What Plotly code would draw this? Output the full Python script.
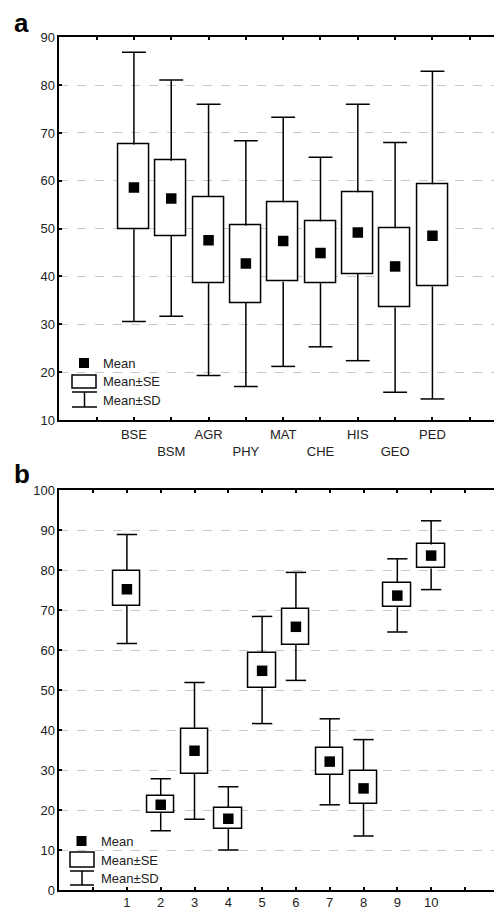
import plotly.graph_objects as go

# ---------------- data: panel a ----------------
categories_a = ["BSE", "BSM", "AGR", "PHY", "MAT", "CHE", "HIS", "GEO", "PED"]
mean_a = [58.6, 56.3, 47.6, 42.7, 47.4, 44.9, 49.2, 42.1, 48.5]
se_high_a = [67.6, 64.2, 56.6, 50.6, 55.5, 51.5, 57.6, 50.1, 59.3]
se_low_a = [49.9, 48.5, 38.6, 34.5, 38.9, 38.6, 40.5, 33.5, 37.9]
sd_high_a = [86.9, 81.1, 76.0, 68.4, 73.3, 64.9, 76.0, 68.0, 82.9]
sd_low_a = [30.6, 31.7, 19.3, 17.0, 21.2, 25.3, 22.4, 15.8, 14.4]

# ---------------- data: panel b ----------------
categories_b = ["1", "2", "3", "4", "5", "6", "7", "8", "9", "10"]
mean_b = [75.2, 21.3, 34.8, 17.8, 54.8, 65.8, 32.1, 25.4, 73.6, 83.6]
se_high_b = [79.8, 23.6, 40.3, 20.6, 59.3, 70.3, 35.6, 29.8, 76.8, 86.4]
se_low_b = [71.0, 19.2, 29.0, 15.3, 50.5, 61.3, 28.8, 21.6, 70.7, 80.4]
sd_high_b = [88.9, 27.8, 51.9, 25.8, 68.4, 79.4, 42.8, 37.6, 82.8, 92.3]
sd_low_b = [61.6, 14.8, 17.7, 10.0, 41.6, 52.4, 21.3, 13.5, 64.5, 75.1]

W, H = 494, 910
FONT = "Liberation Sans, Arial, sans-serif"


def px(x):
    return x / W


def py(y):
    return 1 - y / H


fig = go.Figure()


def add_panel(cats, mean, seh, sel, sdh, sdl, xa, ya, box_w, cap_w):
    pos = list(range(1, len(cats) + 1))
    # boxes (Mean ± SE)
    fig.add_trace(go.Bar(
        x=pos, base=sel, y=[h - l for h, l in zip(seh, sel)], width=box_w,
        marker=dict(color="white", line=dict(color="black", width=1.5)),
        xaxis=xa, yaxis=ya, showlegend=False, hoverinfo="skip"))
    # whiskers (Mean ± SD)
    wx, wy = [], []
    for p, h, l, dh, dl in zip(pos, seh, sel, sdh, sdl):
        c = cap_w / 2
        wx += [p, p, None, p, p, None, p - c, p + c, None, p - c, p + c, None]
        wy += [h, dh, None, l, dl, None, dh, dh, None, dl, dl, None]
    fig.add_trace(go.Scatter(
        x=wx, y=wy, mode="lines", line=dict(color="black", width=1.5),
        xaxis=xa, yaxis=ya, showlegend=False, hoverinfo="skip"))
    # means
    fig.add_trace(go.Scatter(
        x=pos, y=mean, mode="markers",
        marker=dict(symbol="square", size=10.5, color="black"),
        xaxis=xa, yaxis=ya, showlegend=False))


add_panel(categories_a, mean_a, se_high_a, se_low_a, sd_high_a, sd_low_a,
          "x", "y", 0.83, 0.64)
add_panel(categories_b, mean_b, se_high_b, se_low_b, sd_high_b, sd_low_b,
          "x2", "y2", 0.81, 0.60)

ticktext_a = [""] + [c if i % 2 == 0 else "<br>" + c for i, c in enumerate(categories_a)] + [""]
ticktext_b = [""] + categories_b + [""]

axis_common = dict(
    showline=True, linecolor="black", linewidth=1.5,
    ticks="inside", ticklen=3, tickcolor="black", tickwidth=1.5,
    tickfont=dict(family=FONT, size=13, color="#222"),
    zeroline=False, automargin=False, fixedrange=True,
)

x_dom = [px(59.3), 1.0]

fig.update_layout(
    width=W, height=H,
    margin=dict(l=0, r=0, t=0, b=0),
    paper_bgcolor="white", plot_bgcolor="white",
    showlegend=False, bargap=0,
    xaxis=dict(domain=x_dom, anchor="y", range=[-1, 10.65],
               tickmode="array", tickvals=list(range(0, 11)), ticktext=ticktext_a,
               mirror="ticks", showgrid=False, ticklabelstandoff=2, **axis_common),
    yaxis=dict(domain=[py(420), py(37.3)], anchor="x", range=[10, 90],
               tickmode="linear", tick0=10, dtick=10, mirror=False,
               showgrid=True, gridcolor="#c8c8c8", gridwidth=1, griddash="dash",
               **axis_common),
    xaxis2=dict(domain=x_dom, anchor="y2", range=[-1, 11.86],
                tickmode="array", tickvals=list(range(0, 12)), ticktext=ticktext_b,
                mirror="ticks", showgrid=False, **axis_common),
    yaxis2=dict(domain=[py(890), py(490)], anchor="x2", range=[0, 100],
                tickmode="linear", tick0=0, dtick=10, mirror=False,
                showgrid=True, gridcolor="#c8c8c8", gridwidth=1, griddash="dash",
                **axis_common),
)

shapes = []
annotations = []


def legend(mean_c, se_box, sd_top, sd_bot, sd_x0, sd_x1, text_x, text_ys):
    mx, my = mean_c
    s = 5
    shapes.append(dict(type="rect", xref="paper", yref="paper",
                       x0=px(mx - s), x1=px(mx + s), y0=py(my + s), y1=py(my - s),
                       fillcolor="black", line=dict(width=0)))
    bx0, by0, bx1, by1 = se_box
    shapes.append(dict(type="rect", xref="paper", yref="paper",
                       x0=px(bx0), x1=px(bx1), y0=py(by1), y1=py(by0),
                       fillcolor="white", line=dict(color="black", width=1.5)))
    cx = (sd_x0 + sd_x1) / 2
    for yy in (sd_top, sd_bot):
        shapes.append(dict(type="line", xref="paper", yref="paper",
                           x0=px(sd_x0), x1=px(sd_x1), y0=py(yy), y1=py(yy),
                           line=dict(color="black", width=1.5)))
    shapes.append(dict(type="line", xref="paper", yref="paper",
                       x0=px(cx), x1=px(cx), y0=py(sd_top), y1=py(sd_bot),
                       line=dict(color="black", width=1.5)))
    for txt, ty in zip(["Mean", "Mean±SE", "Mean±SD"], text_ys):
        annotations.append(dict(text=txt, xref="paper", yref="paper",
                                x=px(text_x), y=py(ty), xanchor="left", yanchor="middle",
                                showarrow=False,
                                font=dict(family=FONT, size=13, color="#222")))


legend((84, 363), (72, 375, 96, 388), 392, 407, 72, 97, 101, (363, 381, 400))
legend((81.5, 841), (70, 852, 94, 867), 871, 885, 70, 94, 99, (841, 860, 878))

annotations.append(dict(text="<b>a</b>", xref="paper", yref="paper",
                        x=px(12), y=py(40), xanchor="left", yanchor="bottom",
                        showarrow=False, font=dict(family=FONT, size=26, color="black")))
annotations.append(dict(text="<b>b</b>", xref="paper", yref="paper",
                        x=px(12), y=py(491), xanchor="left", yanchor="bottom",
                        showarrow=False, font=dict(family=FONT, size=26, color="black")))

fig.update_layout(shapes=shapes, annotations=annotations)

fig.write_html("out.html", config={"displayModeBar": False},
               post_script="document.body.style.margin='0';document.body.style.padding='0';")
